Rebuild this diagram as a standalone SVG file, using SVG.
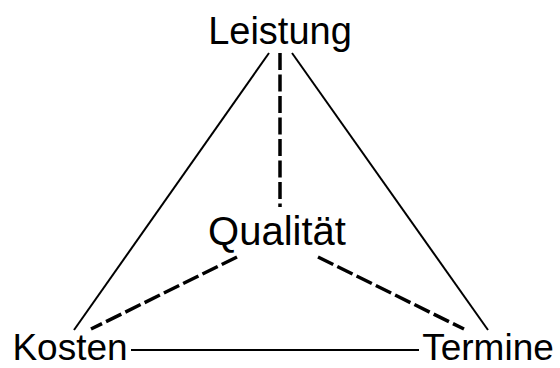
<svg xmlns="http://www.w3.org/2000/svg" width="560" height="368" viewBox="0 0 560 368">
<style>
.lbl{font-family:"Liberation Sans",Arial,sans-serif;font-size:37px;fill:#000;text-anchor:middle}
.solid{stroke:#000;stroke-width:2;fill:none}
.dash{stroke:#000;stroke-width:3.5;fill:none;stroke-dasharray:17,4.5}
</style>
<rect width="560" height="368" fill="#fff"/>
<g id="connectors">
<line class="solid" x1="269" y1="53" x2="74" y2="330"/>
<line class="solid" x1="292" y1="53" x2="488" y2="330"/>
<line class="solid" x1="131" y1="350" x2="419" y2="350"/>
<line class="dash" x1="280" y1="53" x2="280" y2="207"/>
<line class="dash" x1="237" y1="257" x2="91" y2="329"/>
<line class="dash" x1="318" y1="257" x2="464" y2="329"/>
</g>
<g id="leistung"><text class="lbl" x="280" y="44" style="font-size:38px">Leistung</text></g>
<g id="qualitaet"><text class="lbl" x="277" y="245" style="font-size:40px">Qualität</text></g>
<g id="kosten"><text class="lbl" x="70" y="360">Kosten</text></g>
<g id="termine"><text class="lbl" x="488" y="360">Termine</text></g>
</svg>
